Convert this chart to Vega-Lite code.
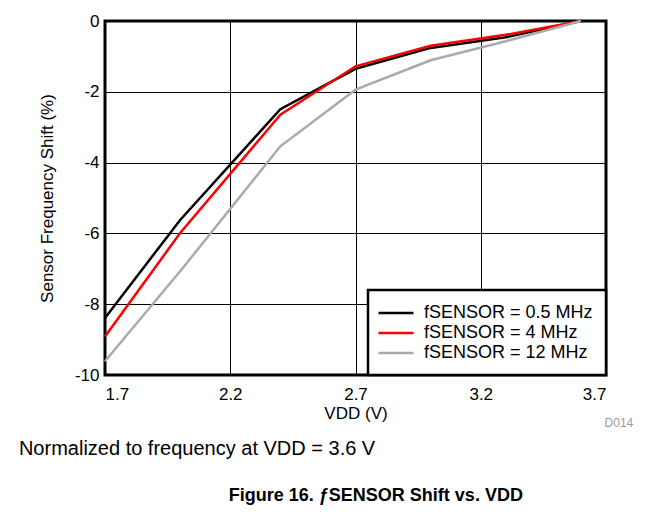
{
  "$schema": "https://vega.github.io/schema/vega-lite/v6.json",
  "padding": {"left": 18, "top": 10, "right": 5, "bottom": 5},
  "background": "white",
  "title": {"text": "Figure 16. ƒSENSOR Shift vs. VDD", "orient": "bottom", "anchor": "middle", "fontSize": 18, "fontWeight": "bold", "font": "Liberation Sans", "color": "black", "offset": 28, "dx": 49},
  "resolve": {"scale": {"color": "independent"}, "legend": {"color": "independent"}},
  "vconcat": [
    {
      "title": {"text": "Normalized to frequency at VDD = 3.6 V", "orient": "bottom", "anchor": "start", "fontSize": 20, "fontWeight": "normal", "font": "Liberation Sans", "color": "black", "dx": -18, "offset": 8},
      "resolve": {"scale": {"color": "independent"}, "legend": {"color": "independent"}},
      "vconcat": [
        {
          "title": {"text": "D014", "orient": "bottom", "anchor": "end", "fontSize": 12, "fontWeight": "normal", "font": "Liberation Sans", "color": "#999999", "dx": 26, "offset": -3},
          "width": 501,
          "height": 354,
          "data": {
            "values": [
              {"v": 1.7, "shift": -8.39, "series": "fSENSOR = 0.5 MHz"},
              {"v": 2.0, "shift": -5.62, "series": "fSENSOR = 0.5 MHz"},
              {"v": 2.4, "shift": -2.49, "series": "fSENSOR = 0.5 MHz"},
              {"v": 2.7, "shift": -1.35, "series": "fSENSOR = 0.5 MHz"},
              {"v": 3.0, "shift": -0.76, "series": "fSENSOR = 0.5 MHz"},
              {"v": 3.3, "shift": -0.46, "series": "fSENSOR = 0.5 MHz"},
              {"v": 3.6, "shift": 0.0, "series": "fSENSOR = 0.5 MHz"},
              {"v": 1.7, "shift": -8.91, "series": "fSENSOR = 4 MHz"},
              {"v": 2.0, "shift": -5.99, "series": "fSENSOR = 4 MHz"},
              {"v": 2.4, "shift": -2.65, "series": "fSENSOR = 4 MHz"},
              {"v": 2.7, "shift": -1.28, "series": "fSENSOR = 4 MHz"},
              {"v": 3.0, "shift": -0.70, "series": "fSENSOR = 4 MHz"},
              {"v": 3.3, "shift": -0.39, "series": "fSENSOR = 4 MHz"},
              {"v": 3.6, "shift": 0.0, "series": "fSENSOR = 4 MHz"},
              {"v": 1.7, "shift": -9.61, "series": "fSENSOR = 12 MHz"},
              {"v": 2.0, "shift": -7.07, "series": "fSENSOR = 12 MHz"},
              {"v": 2.4, "shift": -3.54, "series": "fSENSOR = 12 MHz"},
              {"v": 2.7, "shift": -1.94, "series": "fSENSOR = 12 MHz"},
              {"v": 3.0, "shift": -1.11, "series": "fSENSOR = 12 MHz"},
              {"v": 3.3, "shift": -0.57, "series": "fSENSOR = 12 MHz"},
              {"v": 3.6, "shift": 0.0, "series": "fSENSOR = 12 MHz"}
            ]
          },
          "mark": {"type": "line", "strokeWidth": 2.5},
          "encoding": {
            "x": {"field": "v", "type": "quantitative", "title": "VDD (V)", "scale": {"domain": [1.7, 3.7], "nice": false, "zero": false}, "axis": {"values": [1.7, 2.2, 2.7, 3.2, 3.7], "format": ".1f", "labelPadding": 11, "titlePadding": 3}},
            "y": {"field": "shift", "type": "quantitative", "title": "Sensor Frequency Shift (%)", "scale": {"domain": [-10, 0], "nice": false}, "axis": {"values": [-10, -8, -6, -4, -2, 0], "labelExpr": "'' + datum.value", "labelPadding": 6, "titlePadding": 18}},
            "color": {"field": "series", "type": "nominal", "sort": ["fSENSOR = 0.5 MHz", "fSENSOR = 4 MHz", "fSENSOR = 12 MHz"], "scale": {"domain": ["fSENSOR = 0.5 MHz", "fSENSOR = 4 MHz", "fSENSOR = 12 MHz"], "range": ["#000000", "#ff0000", "#aaaaaa"]}, "legend": {"title": null, "orient": "bottom-right", "offset": 0, "symbolType": "M-2,0H2", "symbolSize": 306, "symbolStrokeWidth": 2.5, "symbolOffset": 5, "labelFontSize": 18, "labelFont": "Liberation Sans", "labelColor": "black", "labelOffset": 18, "strokeColor": "black", "fillColor": "white", "padding": 13, "rowPadding": 1, "labelLimit": 300}}
          }
        }
      ]
    }
  ],
  "config": {
    "font": "Liberation Sans",
    "view": {"stroke": "black", "strokeWidth": 3},
    "legend": {"strokeWidth": 2.5},
    "axis": {"labelFontSize": 17, "titleFontSize": 17, "titleFontWeight": "normal", "labelColor": "black", "titleColor": "black", "labelFont": "Liberation Sans", "titleFont": "Liberation Sans", "domain": false, "ticks": false, "gridColor": "black", "gridWidth": 1, "gridOpacity": 1},
    "concat": {"spacing": 0}
  }
}
